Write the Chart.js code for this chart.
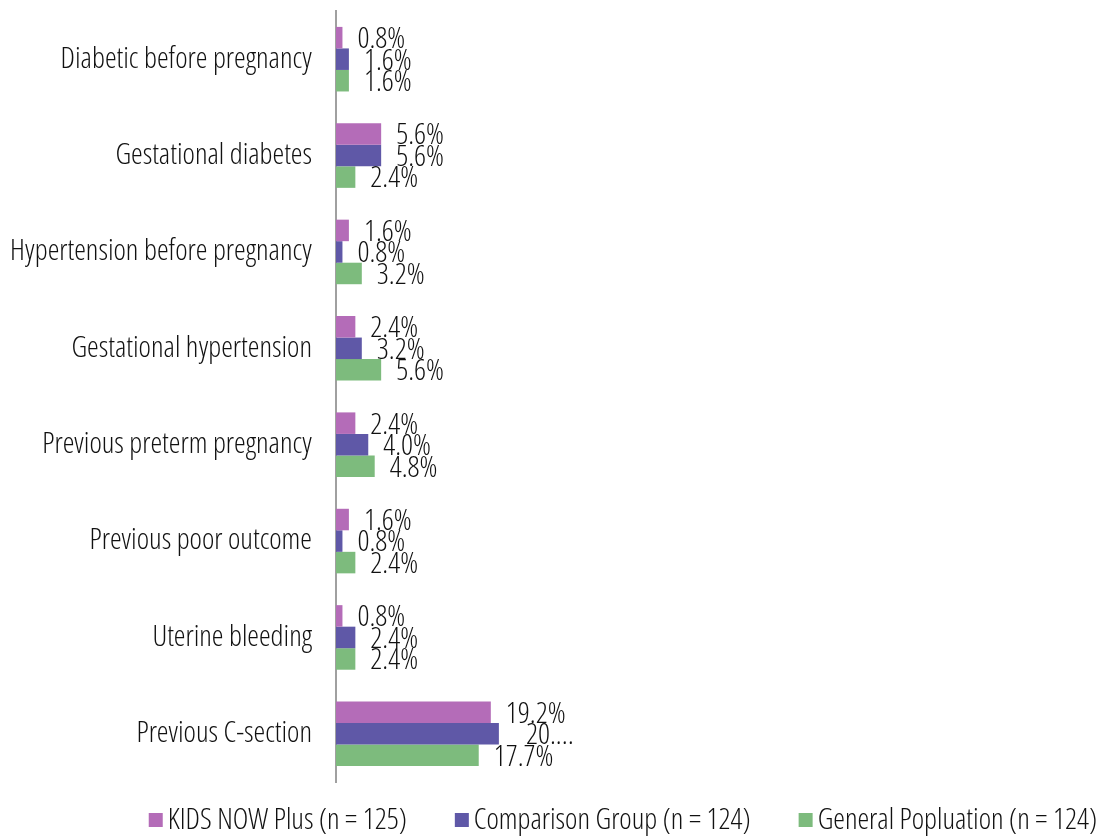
<!DOCTYPE html>
<html>
<head>
<meta charset="utf-8">
<script src="https://cdn.jsdelivr.net/npm/chart.js@4"></script>
<style>
    html, body { margin: 0; padding: 0; background: #fff; }
    #wrap { width: 1100px; height: 836px; }
</style>
</head>
<body>
<div id="wrap"><canvas id="myChart"></canvas></div>
<script>
const categories = [
    'Diabetic before pregnancy',
    'Gestational diabetes',
    'Hypertension before pregnancy',
    'Gestational hypertension',
    'Previous preterm pregnancy',
    'Previous poor outcome',
    'Uterine bleeding',
    'Previous C-section'
];
const kidsNowPlus = [0.8, 5.6, 1.6, 2.4, 2.4, 1.6, 0.8, 19.2];
const comparisonGroup = [1.6, 5.6, 0.8, 3.2, 4.0, 0.8, 2.4, 20.2];
const generalPopulation = [1.6, 2.4, 3.2, 5.6, 4.8, 2.4, 2.4, 17.7];
const seriesNames = ['KIDS NOW Plus (n = 125)', 'Comparison Group (n = 124)', 'General Popluation (n = 124)'];
const seriesColors = ['#b46cb8', '#5f58a7', '#7dbb7d'];

const FAMILY = "'Open Sans', 'Roboto Condensed', sans-serif";
const WEIGHT = '300 condensed';
const SIZE = 29.5;
const FONT = WEIGHT + ' ' + SIZE + 'px ' + FAMILY;
const TEXT_COLOR = '#111';

// 每個 bar 旁的百分比文字 (最長那個被截斷)
const pct = v => v.toFixed(1) + '%';
const labelTexts = [kidsNowPlus.map(pct), comparisonGroup.map(pct), generalPopulation.map(pct)];
labelTexts[1][7] = '20.…';

const valueLabels = {
    id: 'valueLabels',
    afterDatasetsDraw(chart) {
        const c = chart.ctx;
        c.save();
        c.font = FONT;
        c.fillStyle = TEXT_COLOR;
        c.textBaseline = 'middle';
        c.textAlign = 'left';
        chart.data.datasets.forEach((ds, i) => {
            chart.getDatasetMeta(i).data.forEach((bar, j) => {
                const txt = labelTexts[i][j];
                const extra = txt.indexOf('…') > -1 ? 12 : 0;
                c.fillText(txt, bar.x + 15 + extra, bar.y + 2);
            });
        });
        c.restore();
    }
};

// 圖例: 靠右排一列, 色塊與文字貼近
const bottomLegend = {
    id: 'bottomLegend',
    afterDraw(chart) {
        const c = chart.ctx;
        const box = 14, gapText = 5, gapItem = 48, right = 1097, midY = 820;
        c.save();
        c.font = FONT;
        c.textBaseline = 'middle';
        c.textAlign = 'left';
        const items = chart.data.datasets.map(ds => ({
            text: ds.label,
            color: ds.backgroundColor,
            w: c.measureText(ds.label).width
        }));
        const total = items.reduce((s, it) => s + box + gapText + it.w, 0) + gapItem * (items.length - 1);
        let x = right - total;
        items.forEach(it => {
            c.fillStyle = it.color;
            c.fillRect(x, midY - box / 2, box, box);
            c.fillStyle = TEXT_COLOR;
            c.fillText(it.text, x + box + gapText, midY + 1);
            x += box + gapText + it.w + gapItem;
        });
        c.restore();
    }
};

const ctx = document.getElementById('myChart');
new Chart(ctx, {
    type: 'bar',
    data: {
        labels: categories,
        datasets: [kidsNowPlus, comparisonGroup, generalPopulation].map((d, i) => ({
            label: seriesNames[i],
            data: d,
            backgroundColor: seriesColors[i],
            borderWidth: 0,
            categoryPercentage: 0.67,
            barPercentage: 1.0
        }))
    },
    options: {
        indexAxis: 'y',
        responsive: true,
        maintainAspectRatio: false,
        animation: false,
        layout: { padding: { top: 11, right: 6, left: 0, bottom: 54 } },
        scales: {
            x: {
                min: 0,
                max: 94,
                display: false
            },
            y: {
                grid: { display: false, drawTicks: false },
                border: { display: true, color: '#a0a0a0', width: 2 },
                ticks: {
                    padding: 24,
                    color: TEXT_COLOR,
                    font: { family: FAMILY, size: SIZE, weight: WEIGHT }
                },
                afterFit(axis) {
                    axis.width = 336;
                    axis.paddingTop = 0;
                    axis.paddingBottom = 0;
                }
            }
        },
        plugins: {
            legend: { display: false },
            tooltip: { enabled: false }
        }
    },
    plugins: [valueLabels, bottomLegend]
});
</script>
</body>
</html>
